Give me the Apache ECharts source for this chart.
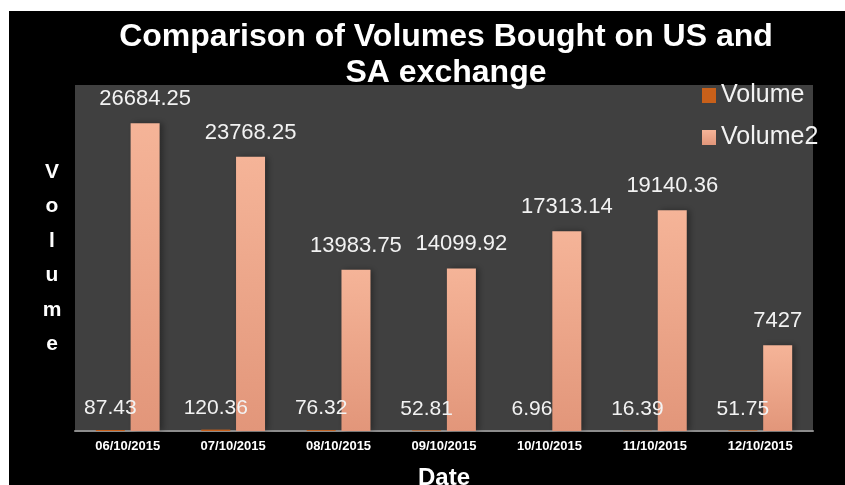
<!DOCTYPE html>
<html>
<head>
<meta charset="utf-8">
<script src="https://cdn.jsdelivr.net/npm/echarts@6/dist/echarts.min.js"></script>
<style>
	html, body {
		margin: 0;
		padding: 0;
		background: #ffffff;
	}
	#VolumeChart {
		position: absolute;
		left: 9px;
		top: 11px;
		width: 836px;
		height: 474px;
		background: #000000;
	}
</style>
</head>
<body>
<div id="VolumeChart"></div>
<script>
	/*日期*/
	const dates = ['06/10/2015', '07/10/2015', '08/10/2015', '09/10/2015', '10/10/2015', '11/10/2015', '12/10/2015'];
	/*US 成交量*/
	const volume = [87.43, 120.36, 76.32, 52.81, 6.96, 16.39, 51.75];
	/*SA 成交量*/
	const volume2 = [26684.25, 23768.25, 13983.75, 14099.92, 17313.14, 19140.36, 7427];

	const font = 'Liberation Sans, Arial, sans-serif';

	let myChart = echarts.init(document.getElementById('VolumeChart'));

	let option = {
		backgroundColor: '#000000',
		title: {
			text: 'Comparison of Volumes Bought on US and\nSA exchange',
			left: 432,
			top: 3,
			textAlign: 'center',
			textStyle: {
				color: '#ffffff',
				fontFamily: font,
				fontSize: 32,
				fontWeight: 'bold',
				lineHeight: 36
			}
		},
		legend: {
			orient: 'vertical',
			left: 688,
			top: 67,
			itemWidth: 14,
			itemHeight: 15,
			itemGap: 17,
			icon: 'rect',
			textStyle: {
				color: '#f2f2f2',
				fontFamily: font,
				fontSize: 25
			},
			data: ['Volume', 'Volume2']
		},
		grid: {
			left: 66,
			right: 32,
			top: 74,
			bottom: 54,
			outerBoundsMode: 'none',
			containLabel: false,
			show: true,
			backgroundColor: '#404040',
			borderWidth: 0
		},
		xAxis: {
			type: 'category',
			data: dates,
			name: 'Date',
			nameLocation: 'middle',
			nameGap: 35,
			nameTextStyle: {
				color: '#ffffff',
				fontFamily: font,
				fontSize: 24,
				fontWeight: 'bold'
			},
			axisLine: {
				lineStyle: {
					color: '#8c8c8c',
					width: 2
				}
			},
			axisTick: {
				show: false
			},
			axisLabel: {
				color: '#ffffff',
				fontFamily: font,
				fontSize: 13,
				fontWeight: 'bold',
				margin: 9
			}
		},
		yAxis: {
			type: 'value',
			min: 0,
			max: 30000,
			name: 'V\no\nl\nu\nm\ne',
			nameLocation: 'middle',
			nameRotate: 0,
			nameGap: 23,
			nameTextStyle: {
				color: '#ffffff',
				fontFamily: font,
				fontSize: 21,
				fontWeight: 'bold',
				lineHeight: 34.5,
				align: 'center',
				padding: [10, 0, 0, 0]
			},
			axisLine: {
				show: false
			},
			axisTick: {
				show: false
			},
			axisLabel: {
				show: false
			},
			splitLine: {
				show: false
			}
		},
		series: [{
			name: 'Volume',
			type: 'bar',
			data: volume,
			barWidth: 29,
			barGap: '20%',
			itemStyle: {
				color: '#c8601a'
			},
			label: {
				show: true,
				position: 'top',
				distance: 11,
				color: '#f2f2f2',
				fontFamily: font,
				fontSize: 21
			}
		}, {
			name: 'Volume2',
			type: 'bar',
			data: volume2,
			barWidth: 29,
			itemStyle: {
				color: new echarts.graphic.LinearGradient(0, 0, 0, 1, [{
					offset: 0,
					color: '#f5b498'
				}, {
					offset: 1,
					color: '#e2967a'
				}]),
				shadowColor: 'rgba(0, 0, 0, 0.35)',
				shadowBlur: 6,
				shadowOffsetX: 3
			},
			label: {
				show: true,
				position: 'top',
				distance: 13,
				color: '#f2f2f2',
				fontFamily: font,
				fontSize: 22
			}
		}]
	};

	myChart.setOption(option);
</script>
</body>
</html>
